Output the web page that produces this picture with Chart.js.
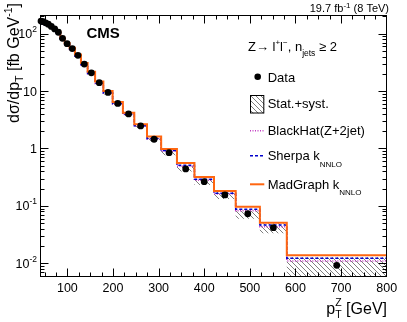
<!DOCTYPE html>
<html>
<head>
<meta charset="utf-8">
<script src="https://cdn.jsdelivr.net/npm/chart.js@4.4.0/dist/chart.umd.min.js"></script>
<style>
  html, body { margin: 0; padding: 0; background: #fff; }
  #wrap { width: 407px; height: 322px; }
</style>
</head>
<body>
<div id="wrap"><canvas id="mychart" width="407" height="322"></canvas></div>
<script>
// bin edges in GeV (log binning, last bin merged)
const binEdges = [40, 44.5, 49.5, 55.1, 61.3, 68.3, 76.0, 84.6, 94.1, 104.8, 116.6, 129.8, 144.4,
  160.8, 178.9, 199.2, 221.7, 246.7, 274.6, 305.6, 340.2, 378.6, 421.4, 469.0, 522.0, 581.0, 800];
// measured cross section, fb/GeV
const dataVals = [166, 162, 155, 146, 134, 121, 106, 83, 67, 55, 42, 29.6, 20.8,
  14.0, 9.5, 6.1, 4.0, 2.47, 1.45, 0.845, 0.44, 0.264, 0.155, 0.073, 0.0417, 0.0092];
// relative stat+syst uncertainty
const dataErr = [0.07, 0.07, 0.07, 0.07, 0.07, 0.07, 0.07, 0.07, 0.07, 0.07, 0.07, 0.07, 0.07,
  0.08, 0.08, 0.08, 0.08, 0.08, 0.1, 0.1, 0.1, 0.12, 0.15, 0.18, 0.2, 0.38];
const madgraphVals = [168, 164, 157, 148, 136, 123, 108, 85, 69, 57, 43.5, 30.8, 21.7,
  14.7, 10.0, 6.45, 4.2, 2.65, 1.62, 0.98, 0.56, 0.32, 0.182, 0.097, 0.051, 0.0138];
const sherpaVals = [150, 148, 143, 136, 126, 115, 101, 80, 65, 53.5, 41, 29, 20.3,
  13.7, 9.3, 6.0, 3.95, 2.5, 1.5, 0.92, 0.51, 0.29, 0.166, 0.0873, 0.0465, 0.0122];
const blackhatVals = [152, 149, 144, 137, 127, 116, 102, 80, 64.5, 53, 40.5, 28.6, 20,
  13.5, 9.2, 5.95, 3.9, 2.45, 1.47, 0.9, 0.49, 0.28, 0.161, 0.0824, 0.0434, 0.011];
const xTicks = [100, 200, 300, 400, 500, 600, 700, 800];
const yTicks = [0.01, 0.1, 1, 10, 100];
const yTickLabels = [['10', '-2'], ['10', '-1'], ['1', ''], ['10', ''], ['10', '2']];

const FONT = '"Liberation Sans", Arial, Helvetica, sans-serif';
const ORANGE = '#ff6610';
const BLUE = '#0000cc';
const MAGENTA = '#c23cc2';

// histogramm som trapp: ett punkt per kant
function steps(vals) {
  return binEdges.map((e, i) => ({ x: e, y: vals[Math.min(i, vals.length - 1)] }));
}
const centers = dataVals.map((v, i) => ({ x: (binEdges[i] + binEdges[i + 1]) / 2, y: v }));
const upper = dataVals.map((v, i) => v * (1 + dataErr[i]));
const lower = dataVals.map((v, i) => v * (1 - dataErr[i]));

// skravur for stat+syst
function hatch() {
  const c = document.createElement('canvas');
  c.width = 5; c.height = 5;
  const g = c.getContext('2d');
  g.strokeStyle = '#707070';
  g.lineWidth = 0.9;
  g.beginPath();
  g.moveTo(-1, -1); g.lineTo(6, 6);
  g.moveTo(-1, 4); g.lineTo(1, 6);
  g.moveTo(4, -1); g.lineTo(6, 1);
  g.stroke();
  return g.createPattern(c, 'repeat');
}
const hatchPattern = hatch();

// tekst med hevet/senket skrift
function rich(ctx, parts, x, y, align) {
  let w = 0;
  parts.forEach(p => {
    ctx.font = (p[3] || '') + ' ' + p[1] + 'px ' + FONT;
    if (p[4] !== false) w += ctx.measureText(p[0]).width;
  });
  let cx = align === 'right' ? x - w : x;
  parts.forEach(p => {
    ctx.font = (p[3] || '') + ' ' + p[1] + 'px ' + FONT;
    ctx.fillText(p[0], cx, y + (p[2] || 0));
    if (p[4] !== false) cx += ctx.measureText(p[0]).width;
  });
  return w;
}

function seg(ctx, x1, y1, x2, y2) {
  ctx.beginPath(); ctx.moveTo(x1, y1); ctx.lineTo(x2, y2); ctx.stroke();
}

const rootStyle = {
  id: 'rootStyle',
  afterDraw(chart) {
    const { ctx, chartArea: a, scales: { x, y } } = chart;
    ctx.save();
    ctx.fillStyle = '#000';
    ctx.strokeStyle = '#000';
    ctx.lineWidth = 1;
    ctx.textAlign = 'left';
    ctx.textBaseline = 'alphabetic';
    const L = Math.round(a.left) + 0.5, R = Math.round(a.right) - 0.5;
    const T = Math.round(a.top) + 0.5, B = Math.round(a.bottom) - 0.5;
    ctx.strokeRect(L, T, R - L, B - T);

    // x-streker
    for (let v = 50; v < 800; v += 25) {
      const px = Math.round(x.getPixelForValue(v)) + 0.5;
      const len = v % 100 === 0 ? 8 : 4;
      seg(ctx, px, B, px, B - len);
      seg(ctx, px, T, px, T + len);
    }
    // y-streker, log
    for (let d = -3; d <= 2; d++) {
      for (let k = 1; k <= 9; k++) {
        const v = k * Math.pow(10, d);
        if (v < y.min || v > y.max) continue;
        const py = Math.round(y.getPixelForValue(v)) + 0.5;
        const len = k === 1 ? 8 : 4;
        seg(ctx, L, py, L + len, py);
        seg(ctx, R, py, R - len, py);
      }
    }
    // y-tall
    yTicks.forEach((v, i) => {
      const py = y.getPixelForValue(v);
      const lab = yTickLabels[i];
      rich(ctx, [[lab[0], 12.5, 0], [lab[1], 8.5, -6]], 37, py + 4.5, 'right');
    });

    // aksetitler
    rich(ctx, [['p', 16, 0], ['Z', 10.5, -8, '', false], ['T', 10.5, 4], [' [GeV]', 16, 0]], 387, 313.5, 'right');
    ctx.save();
    ctx.translate(19, 3);
    ctx.rotate(-Math.PI / 2);
    rich(ctx, [['d\u03c3/dp', 16, 0], ['T', 10.5, 4], [' [fb GeV', 16, 0], ['-1', 10.5, -7], [']', 16, 0]], 0, 0, 'right');
    ctx.restore();

    rich(ctx, [['19.7 fb', 11, 0], ['-1', 8, -4.5], [' (8 TeV)', 11, 0]], 389, 12, 'right');
    rich(ctx, [['CMS', 15, 0, 'bold']], 86.5, 38);

    // forklaring
    rich(ctx, [['Z\u2192 l', 13, 0], ['+', 8, -6], ['l', 13, 0], ['\u2212', 8, -6], [', n', 13, 0], ['jets', 8.5, 5], [' \u2265 2', 13, 0]], 248, 51);
    const lx1 = 250, lx2 = 264.3, tx = 267.7;
    ctx.beginPath(); ctx.arc(257.7, 76.7, 3.3, 0, Math.PI * 2); ctx.fill();
    rich(ctx, [['Data', 13, 0]], tx, 81.5);

    ctx.fillStyle = hatchPattern;
    ctx.fillRect(lx1, 95, lx2 - lx1, 18.3);
    ctx.fillStyle = '#000';
    ctx.strokeRect(lx1 + 0.5, 95.5, lx2 - lx1 - 1, 17.5);
    rich(ctx, [['Stat.+syst.', 13, 0]], tx, 108);

    ctx.lineWidth = 1.5;
    ctx.strokeStyle = MAGENTA; ctx.setLineDash([1, 1.5]);
    seg(ctx, lx1, 130.7, lx2, 130.7);
    rich(ctx, [['BlackHat(Z+2jet)', 13, 0]], tx, 135.4);

    ctx.strokeStyle = BLUE; ctx.setLineDash([3, 2]);
    seg(ctx, lx1, 155.7, lx2, 155.7);
    rich(ctx, [['Sherpa k', 13, 0], ['NNLO', 8, 6.5]], tx, 160);

    ctx.lineWidth = 2;
    ctx.strokeStyle = ORANGE; ctx.setLineDash([]);
    seg(ctx, lx1, 184.3, lx2, 184.3);
    rich(ctx, [['MadGraph k', 13, 0], ['NNLO', 8, 6.5]], tx, 188.5);
    ctx.restore();
  }
};

const ctx = document.getElementById('mychart');
const mychart = new Chart(ctx, {
  type: 'line',
  data: {
    datasets: [
      {
        label: 'Data',
        data: centers,
        showLine: false,
        pointRadius: 3.4,
        pointBackgroundColor: '#000',
        pointBorderWidth: 0,
        clip: false,
        order: 0
      },
      {
        label: 'MadGraph kNNLO',
        data: steps(madgraphVals),
        stepped: 'before',
        borderColor: ORANGE,
        borderWidth: 2,
        pointRadius: 0,
        order: 1
      },
      {
        label: 'Sherpa kNNLO',
        data: steps(sherpaVals),
        stepped: 'before',
        borderColor: BLUE,
        borderWidth: 1.5,
        borderDash: [3, 2],
        pointRadius: 0,
        order: 2
      },
      {
        label: 'BlackHat(Z+2jet)',
        data: steps(blackhatVals),
        stepped: 'before',
        borderColor: MAGENTA,
        borderWidth: 1.5,
        borderDash: [1, 1.5],
        pointRadius: 0,
        order: 3
      },
      {
        label: 'Stat.+syst. up',
        data: steps(upper),
        stepped: 'before',
        borderColor: 'rgba(0,0,0,0)',
        borderWidth: 0,
        pointRadius: 0,
        order: 4
      },
      {
        label: 'Stat.+syst. down',
        data: steps(lower),
        stepped: 'before',
        borderColor: 'rgba(0,0,0,0)',
        borderWidth: 0,
        pointRadius: 0,
        fill: '-1',
        backgroundColor: hatchPattern,
        order: 5
      }
    ]
  },
  options: {
    responsive: false,
    animation: false,
    devicePixelRatio: 1,
    layout: { padding: { top: 15, right: 20.3, left: 0, bottom: 0 } },
    plugins: {
      legend: { display: false },
      tooltip: { enabled: false }
    },
    scales: {
      x: {
        type: 'linear',
        min: 40,
        max: 800,
        afterBuildTicks: s => { s.ticks = xTicks.map(v => ({ value: v })); },
        afterFit: s => { s.height = 45; },
        grid: { display: false, drawTicks: false },
        border: { display: false },
        ticks: {
          color: '#000',
          padding: 4,
          maxRotation: 0,
          font: { family: FONT, size: 12.5 },
          callback: v => String(v)
        }
      },
      y: {
        type: 'logarithmic',
        min: 0.00577,
        max: 211.8,
        afterFit: s => { s.width = 40; },
        grid: { display: false },
        border: { display: false },
        ticks: { display: false }
      }
    }
  },
  plugins: [rootStyle]
});
</script>
</body>
</html>
